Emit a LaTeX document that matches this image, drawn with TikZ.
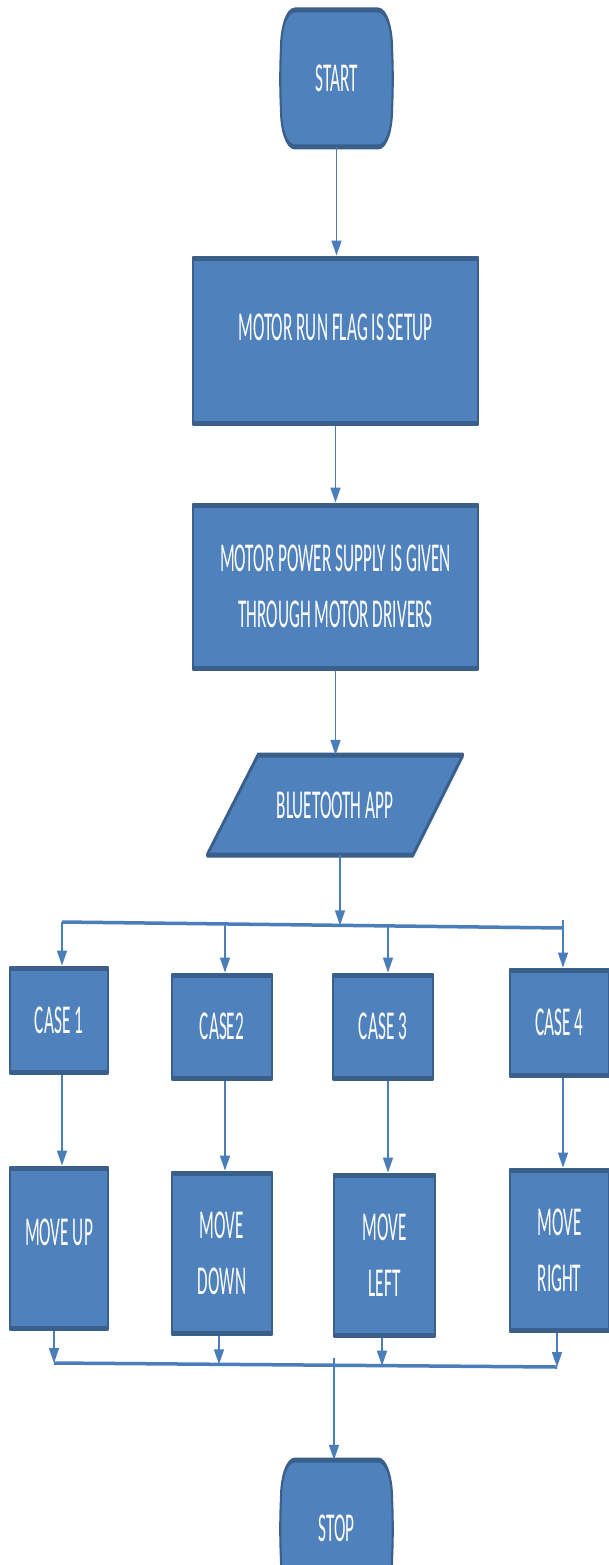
\documentclass[tikz,border=0pt]{standalone}
\usepackage{fontspec}
\setmainfont{Carlito}
\usetikzlibrary{arrows.meta}
\definecolor{boxblue}{HTML}{4F81BD}
\definecolor{boxedge}{HTML}{3A5F8B}
\definecolor{linkblue}{HTML}{4A7EBB}
\begin{document}
\begin{tikzpicture}[
  font=\fontsize{41}{56}\selectfont,
  shapebg/.style={fill=boxblue, draw=boxedge, line width=5pt, line join=round},
  procbox/.style={shapebg, rectangle, text=white, align=center, inner sep=0pt},
  txt/.style={text=white, align=center, inner sep=0pt},
  link/.style={draw=linkblue, line width=3.5pt},
  arr/.style={link, -{Triangle[length=15pt,width=24pt]}},
  raised/.style={text height=26pt, text depth=#1},
]
\fill[white] (0,0) rectangle (608pt,-1565pt);
\useasboundingbox (0,0) rectangle (608pt,-1565pt);
% drawn in a wide frame and condensed horizontally on the canvas
\begin{scope}[transform canvas={xscale=0.42}, x=2.38095pt, y=-1pt]

  % terminator: start
  \draw[shapebg] (295,10) -- (378,10) .. controls (387,10) and (392,30) .. (392,48)
    .. controls (393,70) and (393,88) .. (392,110)
    .. controls (392,128) and (387,147) .. (378,147)
    -- (295,147) .. controls (286,147) and (281,128) .. (281,110)
    .. controls (280,88) and (280,70) .. (281,48)
    .. controls (281,30) and (286,10) .. (295,10) -- cycle;
  \node[txt, minimum width=264pt, minimum height=137pt] (start) at (336.5,78.5) {START};

  % process steps
  \node[procbox, minimum width=678.6pt, minimum height=165pt, raised=27pt] (flag) at (335.5,340.5) {MOTOR RUN FLAG IS SETUP};
  \node[procbox, minimum width=678.6pt, minimum height=163pt] (power) at (335.5,586.5) {MOTOR POWER SUPPLY IS GIVEN\\THROUGH MOTOR DRIVERS};

  % input: bluetooth app
  \draw[shapebg] (258,755) -- (463,755) -- (413,855) -- (207,855) -- cycle;
  \node[txt, minimum width=357pt, minimum height=100pt] (bt) at (335,805) {BLUETOOTH APP};

  % cases
  \node[procbox, minimum width=233.3pt, minimum height=104pt] (case1) at (59,1020) {CASE 1};
  \node[procbox, minimum width=238.1pt, minimum height=103pt] (case2) at (222,1026.5) {CASE2};
  \node[procbox, minimum width=238.1pt, minimum height=103pt] (case3) at (383,1026.5) {CASE 3};
  \node[procbox, minimum width=236pt, minimum height=105pt] (case4) at (559.5,1022.5) {CASE 4};

  % actions
  \node[procbox, minimum width=233.3pt, minimum height=160pt, raised=32pt] (move1) at (59,1248) {MOVE UP};
  \node[procbox, minimum width=238.1pt, minimum height=160pt] (move2) at (222,1253) {MOVE\\DOWN};
  \node[procbox, minimum width=240.5pt, minimum height=160pt] (move3) at (384.5,1255) {MOVE\\LEFT};
  \node[procbox, minimum width=236pt, minimum height=160pt] (move4) at (559.5,1250) {MOVE\\RIGHT};

  % terminator: stop
  \draw[shapebg] (295,1460) -- (378,1460) .. controls (387,1460) and (392,1480) .. (392,1498)
    .. controls (393,1520) and (393,1538) .. (392,1560)
    .. controls (392,1578) and (387,1597) .. (378,1597)
    -- (295,1597) .. controls (286,1597) and (281,1578) .. (281,1560)
    .. controls (280,1538) and (280,1520) .. (281,1498)
    .. controls (281,1480) and (286,1460) .. (295,1460) -- cycle;
  \node[txt, minimum width=264pt, minimum height=137pt] (stop) at (336.5,1528.5) {STOP};

  % branch bar and merge bar
  \coordinate (t1) at (62,922);
  \coordinate (t2) at (225,924);
  \coordinate (hub) at (340,925.3);
  \coordinate (t3) at (388,926);
  \coordinate (t4) at (563,928);
  \coordinate (b1) at (54,1363);
  \coordinate (b2) at (219,1364.3);
  \coordinate (hub2) at (334,1365.3);
  \coordinate (b3) at (382,1365.7);
  \coordinate (b4) at (557,1367);

  % main flow
  \draw[arr] (start.south) -- (start.south |- flag.north);
  \draw[arr] (flag.south) -- (power.north);
  \draw[arr] (power.south) -- (power.south |- bt.north);
  \draw[arr] (bt.south -| hub) -- (hub);

  % fan-out to the cases
  \draw[link] (t1) -- (t4);
  \draw[arr] (t1) -- (t1 |- case1.north);
  \draw[arr] (t2) -- (t2 |- case2.north);
  \draw[arr] (t3) -- (t3 |- case3.north);
  \draw[arr] ([yshift=8pt]t4) -- (t4 |- case4.north);

  % case to action
  \draw[arr] (case1.south -| t1) -- (t1 |- move1.north);
  \draw[arr] (case2.south -| t2) -- (t2 |- move2.north);
  \draw[arr] (case3.south -| t3) -- (t3 |- move3.north);
  \draw[arr] (case4.south -| t4) -- (t4 |- move4.north);

  % merge into stop
  \draw[arr] (move1.south -| b1) -- (b1);
  \draw[arr] (move2.south -| b2) -- (b2);
  \draw[arr] (move3.south -| b3) -- (b3);
  \draw[arr] (move4.south -| b4) -- (b4);
  \draw[link] (b1) -- (b4);
  \draw[arr] ([yshift=7pt]hub2) -- (hub2 |- stop.north);
\end{scope}
\end{tikzpicture}
\end{document}
